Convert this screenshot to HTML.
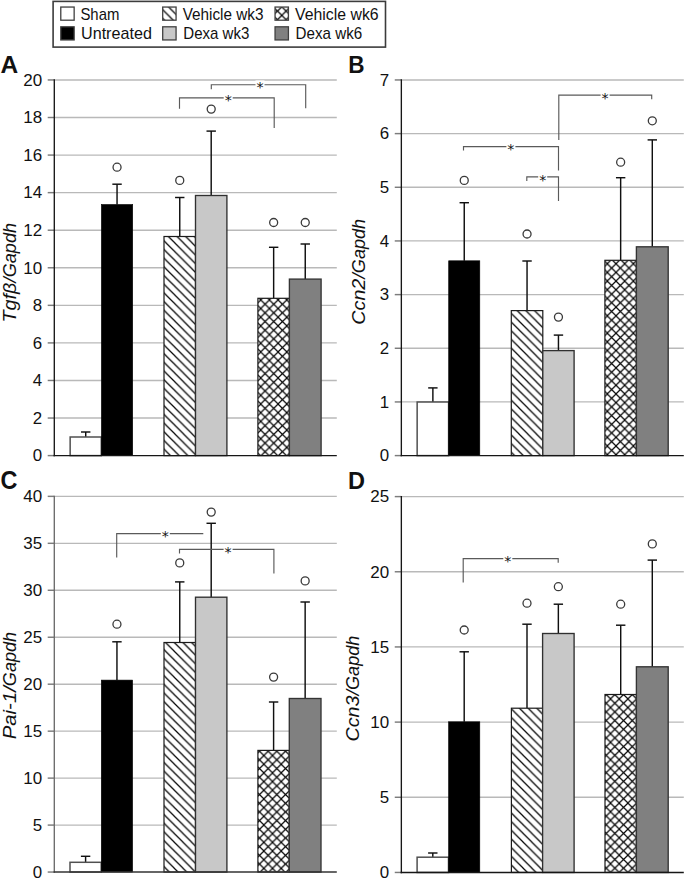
<!DOCTYPE html>
<html lang="en"><head><meta charset="utf-8"><title>Figure: gene expression bar charts</title>
<style>html,body{margin:0;padding:0;background:#fff}svg{display:block}text{font-family:"Liberation Sans", sans-serif;fill:#111}</style>
</head><body>
<svg width="685" height="879" viewBox="0 0 685 879">
<defs>
<pattern id="pAveh3" patternUnits="userSpaceOnUse" width="8.68" height="8.68" x="1.30" y="0.00"><rect width="8.68" height="8.68" fill="#fff"/><path d="M-1.00,-1.00L9.68,9.68 M7.68,-1.00L18.36,9.68 M-1.00,7.68L9.68,18.36" stroke="#050505" stroke-width="1.25"/></pattern>
<pattern id="pBveh3" patternUnits="userSpaceOnUse" width="8.68" height="8.68" x="6.95" y="0.00"><rect width="8.68" height="8.68" fill="#fff"/><path d="M-1.00,-1.00L9.68,9.68 M7.68,-1.00L18.36,9.68 M-1.00,7.68L9.68,18.36" stroke="#050505" stroke-width="1.25"/></pattern>
<pattern id="pCveh3" patternUnits="userSpaceOnUse" width="8.68" height="8.68" x="0.47" y="0.00"><rect width="8.68" height="8.68" fill="#fff"/><path d="M-1.00,-1.00L9.68,9.68 M7.68,-1.00L18.36,9.68 M-1.00,7.68L9.68,18.36" stroke="#050505" stroke-width="1.25"/></pattern>
<pattern id="pDveh3" patternUnits="userSpaceOnUse" width="8.68" height="8.68" x="2.20" y="0.00"><rect width="8.68" height="8.68" fill="#fff"/><path d="M-1.00,-1.00L9.68,9.68 M7.68,-1.00L18.36,9.68 M-1.00,7.68L9.68,18.36" stroke="#050505" stroke-width="1.25"/></pattern>
<pattern id="pAveh6" patternUnits="userSpaceOnUse" width="8.68" height="8.68" x="0.33" y="4.73"><rect width="8.68" height="8.68" fill="#fff"/><path d="M-1.00,-1.00L9.68,9.68 M-1.00,9.68L9.68,-1.00" stroke="#050505" stroke-width="1.2"/></pattern>
<pattern id="pBveh6" patternUnits="userSpaceOnUse" width="8.68" height="8.68" x="8.40" y="3.32"><rect width="8.68" height="8.68" fill="#fff"/><path d="M-1.00,-1.00L9.68,9.68 M-1.00,9.68L9.68,-1.00" stroke="#050505" stroke-width="1.2"/></pattern>
<pattern id="pCveh6" patternUnits="userSpaceOnUse" width="8.68" height="8.68" x="3.42" y="0.37"><rect width="8.68" height="8.68" fill="#fff"/><path d="M-1.00,-1.00L9.68,9.68 M-1.00,9.68L9.68,-1.00" stroke="#050505" stroke-width="1.2"/></pattern>
<pattern id="pDveh6" patternUnits="userSpaceOnUse" width="8.68" height="8.68" x="2.93" y="4.49"><rect width="8.68" height="8.68" fill="#fff"/><path d="M-1.00,-1.00L9.68,9.68 M-1.00,9.68L9.68,-1.00" stroke="#050505" stroke-width="1.2"/></pattern>
<pattern id="pLveh3" patternUnits="userSpaceOnUse" width="8.68" height="8.68" x="5.44" y="0.00"><rect width="8.68" height="8.68" fill="#fff"/><path d="M-1.00,-1.00L9.68,9.68 M7.68,-1.00L18.36,9.68 M-1.00,7.68L9.68,18.36" stroke="#050505" stroke-width="1.25"/></pattern>
<pattern id="pLveh6" patternUnits="userSpaceOnUse" width="8.68" height="8.68" x="4.04" y="6.72"><rect width="8.68" height="8.68" fill="#fff"/><path d="M-1.00,-1.00L9.68,9.68 M-1.00,9.68L9.68,-1.00" stroke="#050505" stroke-width="1.2"/></pattern>
</defs>
<rect width="685" height="879" fill="#fff"/>
<rect x="53.1" y="1.4" width="332.4" height="45.7" fill="#fff" stroke="#3c3c3c" stroke-width="1.6"/>
<rect x="60.78" y="7.05" width="13.37" height="13.15" fill="#fff" stroke="#404040" stroke-width="1.3"/>
<text x="80.4" y="19.95" font-size="16.2" textLength="39.0" lengthAdjust="spacingAndGlyphs">Sham</text>
<rect x="60.78" y="26.8" width="13.37" height="13.15" fill="#000" stroke="#404040" stroke-width="1.3"/>
<text x="81.0" y="39.4" font-size="16.2" textLength="70.9" lengthAdjust="spacingAndGlyphs">Untreated</text>
<rect x="162.7" y="7.05" width="13.37" height="13.15" fill="url(#pLveh3)" stroke="#404040" stroke-width="1.3"/>
<text x="182.7" y="19.95" font-size="16.2" textLength="80.8" lengthAdjust="spacingAndGlyphs">Vehicle wk3</text>
<rect x="162.7" y="26.8" width="13.37" height="13.15" fill="#c8c8c8" stroke="#404040" stroke-width="1.3"/>
<text x="183.3" y="39.4" font-size="16.2" textLength="66.1" lengthAdjust="spacingAndGlyphs">Dexa wk3</text>
<rect x="275.05" y="7.05" width="13.37" height="13.15" fill="url(#pLveh6)" stroke="#404040" stroke-width="1.3"/>
<text x="295.1" y="19.95" font-size="16.2" textLength="83.5" lengthAdjust="spacingAndGlyphs">Vehicle wk6</text>
<rect x="275.05" y="26.8" width="13.37" height="13.15" fill="#808080" stroke="#404040" stroke-width="1.3"/>
<text x="295.6" y="39.4" font-size="16.2" textLength="66.6" lengthAdjust="spacingAndGlyphs">Dexa wk6</text>
<line x1="47.699999999999996" y1="455.60" x2="54.3" y2="455.60" stroke="#7c7c7c" stroke-width="1.45"/>
<text x="42.099999999999994" y="461.35" font-size="16.4" text-anchor="end" textLength="9.4" lengthAdjust="spacingAndGlyphs">0</text>
<line x1="54.3" y1="418.04" x2="336.8" y2="418.04" stroke="#b9b9b9" stroke-width="1.35"/>
<line x1="47.699999999999996" y1="418.04" x2="54.3" y2="418.04" stroke="#7c7c7c" stroke-width="1.45"/>
<text x="42.099999999999994" y="423.79" font-size="16.4" text-anchor="end" textLength="9.4" lengthAdjust="spacingAndGlyphs">2</text>
<line x1="54.3" y1="380.47" x2="336.8" y2="380.47" stroke="#b9b9b9" stroke-width="1.35"/>
<line x1="47.699999999999996" y1="380.47" x2="54.3" y2="380.47" stroke="#7c7c7c" stroke-width="1.45"/>
<text x="42.099999999999994" y="386.22" font-size="16.4" text-anchor="end" textLength="9.4" lengthAdjust="spacingAndGlyphs">4</text>
<line x1="54.3" y1="342.91" x2="336.8" y2="342.91" stroke="#b9b9b9" stroke-width="1.35"/>
<line x1="47.699999999999996" y1="342.91" x2="54.3" y2="342.91" stroke="#7c7c7c" stroke-width="1.45"/>
<text x="42.099999999999994" y="348.66" font-size="16.4" text-anchor="end" textLength="9.4" lengthAdjust="spacingAndGlyphs">6</text>
<line x1="54.3" y1="305.34" x2="336.8" y2="305.34" stroke="#b9b9b9" stroke-width="1.35"/>
<line x1="47.699999999999996" y1="305.34" x2="54.3" y2="305.34" stroke="#7c7c7c" stroke-width="1.45"/>
<text x="42.099999999999994" y="311.09" font-size="16.4" text-anchor="end" textLength="9.4" lengthAdjust="spacingAndGlyphs">8</text>
<line x1="54.3" y1="267.77" x2="336.8" y2="267.77" stroke="#b9b9b9" stroke-width="1.35"/>
<line x1="47.699999999999996" y1="267.77" x2="54.3" y2="267.77" stroke="#7c7c7c" stroke-width="1.45"/>
<text x="42.099999999999994" y="273.52" font-size="16.4" text-anchor="end" textLength="18.9" lengthAdjust="spacingAndGlyphs">10</text>
<line x1="54.3" y1="230.21" x2="336.8" y2="230.21" stroke="#b9b9b9" stroke-width="1.35"/>
<line x1="47.699999999999996" y1="230.21" x2="54.3" y2="230.21" stroke="#7c7c7c" stroke-width="1.45"/>
<text x="42.099999999999994" y="235.96" font-size="16.4" text-anchor="end" textLength="18.9" lengthAdjust="spacingAndGlyphs">12</text>
<line x1="54.3" y1="192.64" x2="336.8" y2="192.64" stroke="#b9b9b9" stroke-width="1.35"/>
<line x1="47.699999999999996" y1="192.64" x2="54.3" y2="192.64" stroke="#7c7c7c" stroke-width="1.45"/>
<text x="42.099999999999994" y="198.39" font-size="16.4" text-anchor="end" textLength="18.9" lengthAdjust="spacingAndGlyphs">14</text>
<line x1="54.3" y1="155.08" x2="336.8" y2="155.08" stroke="#b9b9b9" stroke-width="1.35"/>
<line x1="47.699999999999996" y1="155.08" x2="54.3" y2="155.08" stroke="#7c7c7c" stroke-width="1.45"/>
<text x="42.099999999999994" y="160.83" font-size="16.4" text-anchor="end" textLength="18.9" lengthAdjust="spacingAndGlyphs">16</text>
<line x1="54.3" y1="117.51" x2="336.8" y2="117.51" stroke="#b9b9b9" stroke-width="1.35"/>
<line x1="47.699999999999996" y1="117.51" x2="54.3" y2="117.51" stroke="#7c7c7c" stroke-width="1.45"/>
<text x="42.099999999999994" y="123.26" font-size="16.4" text-anchor="end" textLength="18.9" lengthAdjust="spacingAndGlyphs">18</text>
<line x1="54.3" y1="79.95" x2="336.8" y2="79.95" stroke="#b9b9b9" stroke-width="1.35"/>
<line x1="47.699999999999996" y1="79.95" x2="54.3" y2="79.95" stroke="#7c7c7c" stroke-width="1.45"/>
<text x="42.099999999999994" y="85.70" font-size="16.4" text-anchor="end" textLength="18.9" lengthAdjust="spacingAndGlyphs">20</text>
<line x1="85.72" y1="432.0" x2="85.72" y2="437.0" stroke="#101010" stroke-width="1.45"/>
<line x1="81.02" y1="432.0" x2="90.42" y2="432.0" stroke="#101010" stroke-width="1.45"/>
<rect x="70.15" y="437.0" width="31.15" height="18.60" fill="#fff" stroke="#505050" stroke-width="1.5"/>
<line x1="117.05" y1="184.2" x2="117.05" y2="204.5" stroke="#101010" stroke-width="1.45"/>
<line x1="112.35" y1="184.2" x2="121.75" y2="184.2" stroke="#101010" stroke-width="1.45"/>
<rect x="101.4" y="204.5" width="31.30" height="251.10" fill="#000" stroke="#000" stroke-width="0.6"/>
<circle cx="117.05" cy="167.2" r="4.0" fill="#fff" stroke="#3a3a3a" stroke-width="1.3"/>
<line x1="179.75" y1="197.5" x2="179.75" y2="236.5" stroke="#101010" stroke-width="1.45"/>
<line x1="175.05" y1="197.5" x2="184.45" y2="197.5" stroke="#101010" stroke-width="1.45"/>
<rect x="164.0" y="236.5" width="31.50" height="219.10" fill="url(#pAveh3)" stroke="#1a1a1a" stroke-width="1.2"/>
<circle cx="179.75" cy="180.4" r="4.0" fill="#fff" stroke="#3a3a3a" stroke-width="1.3"/>
<line x1="211.20" y1="131.1" x2="211.20" y2="195.5" stroke="#101010" stroke-width="1.45"/>
<line x1="206.50" y1="131.1" x2="215.90" y2="131.1" stroke="#101010" stroke-width="1.45"/>
<rect x="195.5" y="195.5" width="31.40" height="260.10" fill="#c8c8c8" stroke="#303030" stroke-width="1.35"/>
<circle cx="211.20" cy="109.1" r="4.0" fill="#fff" stroke="#3a3a3a" stroke-width="1.3"/>
<line x1="273.65" y1="247.3" x2="273.65" y2="298.3" stroke="#101010" stroke-width="1.45"/>
<line x1="268.95" y1="247.3" x2="278.35" y2="247.3" stroke="#101010" stroke-width="1.45"/>
<rect x="257.9" y="298.3" width="31.50" height="157.30" fill="url(#pAveh6)" stroke="#1a1a1a" stroke-width="1.2"/>
<circle cx="273.65" cy="222.5" r="4.0" fill="#fff" stroke="#3a3a3a" stroke-width="1.3"/>
<line x1="305.25" y1="244.0" x2="305.25" y2="279.1" stroke="#101010" stroke-width="1.45"/>
<line x1="300.55" y1="244.0" x2="309.95" y2="244.0" stroke="#101010" stroke-width="1.45"/>
<rect x="289.4" y="279.1" width="31.70" height="176.50" fill="#808080" stroke="#343434" stroke-width="1.35"/>
<circle cx="305.25" cy="222.5" r="4.0" fill="#fff" stroke="#3a3a3a" stroke-width="1.3"/>
<line x1="54.3" y1="79.35000000000001" x2="54.3" y2="456.3" stroke="#161616" stroke-width="1.35"/>
<line x1="53.599999999999994" y1="455.6" x2="336.8" y2="455.6" stroke="#161616" stroke-width="1.35"/>
<path d="M211.3,89.3V84.7H305.7V108.3" fill="none" stroke="#5a5a5a" stroke-width="1.15"/>
<rect x="255.5" y="80.4" width="9" height="9" fill="#fff"/>
<text x="260.0" y="92.2" font-size="14.2" text-anchor="middle" style="font-family:'DejaVu Sans','Liberation Sans',sans-serif">*</text>
<path d="M179.5,108.8V97.8H274.2V128.1" fill="none" stroke="#5a5a5a" stroke-width="1.15"/>
<rect x="223.7" y="93.5" width="9" height="9" fill="#fff"/>
<text x="228.2" y="105.3" font-size="14.2" text-anchor="middle" style="font-family:'DejaVu Sans','Liberation Sans',sans-serif">*</text>
<text transform="translate(16.4,322.6) rotate(-90)" font-size="18.6" font-style="italic"><tspan textLength="45.3" lengthAdjust="spacingAndGlyphs">Tgfβ/</tspan><tspan textLength="54.4" lengthAdjust="spacingAndGlyphs">Gapdh</tspan></text>
<text x="0.5" y="73.1" font-size="24.7" font-weight="bold" fill="#000" textLength="17.7" lengthAdjust="spacingAndGlyphs">A</text>
<line x1="394.75" y1="455.60" x2="401.35" y2="455.60" stroke="#7c7c7c" stroke-width="1.45"/>
<text x="389.15000000000003" y="461.35" font-size="16.4" text-anchor="end" textLength="9.4" lengthAdjust="spacingAndGlyphs">0</text>
<line x1="401.35" y1="401.94" x2="683.8" y2="401.94" stroke="#b9b9b9" stroke-width="1.35"/>
<line x1="394.75" y1="401.94" x2="401.35" y2="401.94" stroke="#7c7c7c" stroke-width="1.45"/>
<text x="389.15000000000003" y="407.69" font-size="16.4" text-anchor="end" textLength="9.4" lengthAdjust="spacingAndGlyphs">1</text>
<line x1="401.35" y1="348.27" x2="683.8" y2="348.27" stroke="#b9b9b9" stroke-width="1.35"/>
<line x1="394.75" y1="348.27" x2="401.35" y2="348.27" stroke="#7c7c7c" stroke-width="1.45"/>
<text x="389.15000000000003" y="354.02" font-size="16.4" text-anchor="end" textLength="9.4" lengthAdjust="spacingAndGlyphs">2</text>
<line x1="401.35" y1="294.61" x2="683.8" y2="294.61" stroke="#b9b9b9" stroke-width="1.35"/>
<line x1="394.75" y1="294.61" x2="401.35" y2="294.61" stroke="#7c7c7c" stroke-width="1.45"/>
<text x="389.15000000000003" y="300.36" font-size="16.4" text-anchor="end" textLength="9.4" lengthAdjust="spacingAndGlyphs">3</text>
<line x1="401.35" y1="240.94" x2="683.8" y2="240.94" stroke="#b9b9b9" stroke-width="1.35"/>
<line x1="394.75" y1="240.94" x2="401.35" y2="240.94" stroke="#7c7c7c" stroke-width="1.45"/>
<text x="389.15000000000003" y="246.69" font-size="16.4" text-anchor="end" textLength="9.4" lengthAdjust="spacingAndGlyphs">4</text>
<line x1="401.35" y1="187.28" x2="683.8" y2="187.28" stroke="#b9b9b9" stroke-width="1.35"/>
<line x1="394.75" y1="187.28" x2="401.35" y2="187.28" stroke="#7c7c7c" stroke-width="1.45"/>
<text x="389.15000000000003" y="193.03" font-size="16.4" text-anchor="end" textLength="9.4" lengthAdjust="spacingAndGlyphs">5</text>
<line x1="401.35" y1="133.61" x2="683.8" y2="133.61" stroke="#b9b9b9" stroke-width="1.35"/>
<line x1="394.75" y1="133.61" x2="401.35" y2="133.61" stroke="#7c7c7c" stroke-width="1.45"/>
<text x="389.15000000000003" y="139.36" font-size="16.4" text-anchor="end" textLength="9.4" lengthAdjust="spacingAndGlyphs">6</text>
<line x1="401.35" y1="79.95" x2="683.8" y2="79.95" stroke="#b9b9b9" stroke-width="1.35"/>
<line x1="394.75" y1="79.95" x2="401.35" y2="79.95" stroke="#7c7c7c" stroke-width="1.45"/>
<text x="389.15000000000003" y="85.70" font-size="16.4" text-anchor="end" textLength="9.4" lengthAdjust="spacingAndGlyphs">7</text>
<line x1="432.88" y1="387.9" x2="432.88" y2="402.0" stroke="#101010" stroke-width="1.45"/>
<line x1="428.18" y1="387.9" x2="437.57" y2="387.9" stroke="#101010" stroke-width="1.45"/>
<rect x="417.15" y="402.0" width="31.45" height="53.60" fill="#fff" stroke="#505050" stroke-width="1.5"/>
<line x1="464.25" y1="202.7" x2="464.25" y2="260.8" stroke="#101010" stroke-width="1.45"/>
<line x1="459.55" y1="202.7" x2="468.95" y2="202.7" stroke="#101010" stroke-width="1.45"/>
<rect x="448.7" y="260.8" width="31.10" height="194.80" fill="#000" stroke="#000" stroke-width="0.6"/>
<circle cx="464.25" cy="180.4" r="4.0" fill="#fff" stroke="#3a3a3a" stroke-width="1.3"/>
<line x1="527.05" y1="261.0" x2="527.05" y2="310.6" stroke="#101010" stroke-width="1.45"/>
<line x1="522.35" y1="261.0" x2="531.75" y2="261.0" stroke="#101010" stroke-width="1.45"/>
<rect x="511.3" y="310.6" width="31.50" height="145.00" fill="url(#pBveh3)" stroke="#1a1a1a" stroke-width="1.2"/>
<circle cx="527.05" cy="234.0" r="4.0" fill="#fff" stroke="#3a3a3a" stroke-width="1.3"/>
<line x1="558.45" y1="335.1" x2="558.45" y2="350.6" stroke="#101010" stroke-width="1.45"/>
<line x1="553.75" y1="335.1" x2="563.15" y2="335.1" stroke="#101010" stroke-width="1.45"/>
<rect x="542.8" y="350.6" width="31.30" height="105.00" fill="#c8c8c8" stroke="#303030" stroke-width="1.35"/>
<circle cx="558.45" cy="317.1" r="4.0" fill="#fff" stroke="#3a3a3a" stroke-width="1.3"/>
<line x1="620.65" y1="177.7" x2="620.65" y2="260.3" stroke="#101010" stroke-width="1.45"/>
<line x1="615.95" y1="177.7" x2="625.35" y2="177.7" stroke="#101010" stroke-width="1.45"/>
<rect x="604.9" y="260.3" width="31.50" height="195.30" fill="url(#pBveh6)" stroke="#1a1a1a" stroke-width="1.2"/>
<circle cx="620.65" cy="162.2" r="4.0" fill="#fff" stroke="#3a3a3a" stroke-width="1.3"/>
<line x1="652.30" y1="139.9" x2="652.30" y2="246.8" stroke="#101010" stroke-width="1.45"/>
<line x1="647.60" y1="139.9" x2="657.00" y2="139.9" stroke="#101010" stroke-width="1.45"/>
<rect x="636.4" y="246.8" width="31.80" height="208.80" fill="#808080" stroke="#343434" stroke-width="1.35"/>
<circle cx="652.30" cy="120.8" r="4.0" fill="#fff" stroke="#3a3a3a" stroke-width="1.3"/>
<line x1="401.35" y1="79.35000000000001" x2="401.35" y2="456.3" stroke="#161616" stroke-width="1.35"/>
<line x1="400.65000000000003" y1="455.6" x2="683.8" y2="455.6" stroke="#161616" stroke-width="1.35"/>
<path d="M558.8,140.1V95.1H651.7V99.3" fill="none" stroke="#5a5a5a" stroke-width="1.15"/>
<rect x="600.6" y="90.8" width="9" height="9" fill="#fff"/>
<text x="605.1" y="102.6" font-size="14.2" text-anchor="middle" style="font-family:'DejaVu Sans','Liberation Sans',sans-serif">*</text>
<path d="M463.5,150.5V146.6H558.5V170.6" fill="none" stroke="#5a5a5a" stroke-width="1.15"/>
<rect x="506.4" y="142.3" width="9" height="9" fill="#fff"/>
<text x="510.9" y="154.1" font-size="14.2" text-anchor="middle" style="font-family:'DejaVu Sans','Liberation Sans',sans-serif">*</text>
<path d="M526.8,181.0V176.9H558.5V200.9" fill="none" stroke="#5a5a5a" stroke-width="1.15"/>
<rect x="538.2" y="172.7" width="9" height="9" fill="#fff"/>
<text x="542.7" y="184.5" font-size="14.2" text-anchor="middle" style="font-family:'DejaVu Sans','Liberation Sans',sans-serif">*</text>
<text transform="translate(364.5,324.7) rotate(-90)" font-size="18.6" font-style="italic"><tspan textLength="51.5" lengthAdjust="spacingAndGlyphs">Ccn2/</tspan><tspan textLength="54.4" lengthAdjust="spacingAndGlyphs">Gapdh</tspan></text>
<text x="348.3" y="73.1" font-size="24.7" font-weight="bold" fill="#000" textLength="16.3" lengthAdjust="spacingAndGlyphs">B</text>
<line x1="47.699999999999996" y1="872.05" x2="54.3" y2="872.05" stroke="#7c7c7c" stroke-width="1.45"/>
<text x="42.099999999999994" y="877.80" font-size="16.4" text-anchor="end" textLength="9.4" lengthAdjust="spacingAndGlyphs">0</text>
<line x1="54.3" y1="825.09" x2="336.8" y2="825.09" stroke="#b9b9b9" stroke-width="1.35"/>
<line x1="47.699999999999996" y1="825.09" x2="54.3" y2="825.09" stroke="#7c7c7c" stroke-width="1.45"/>
<text x="42.099999999999994" y="830.84" font-size="16.4" text-anchor="end" textLength="9.4" lengthAdjust="spacingAndGlyphs">5</text>
<line x1="54.3" y1="778.12" x2="336.8" y2="778.12" stroke="#b9b9b9" stroke-width="1.35"/>
<line x1="47.699999999999996" y1="778.12" x2="54.3" y2="778.12" stroke="#7c7c7c" stroke-width="1.45"/>
<text x="42.099999999999994" y="783.88" font-size="16.4" text-anchor="end" textLength="18.9" lengthAdjust="spacingAndGlyphs">10</text>
<line x1="54.3" y1="731.16" x2="336.8" y2="731.16" stroke="#b9b9b9" stroke-width="1.35"/>
<line x1="47.699999999999996" y1="731.16" x2="54.3" y2="731.16" stroke="#7c7c7c" stroke-width="1.45"/>
<text x="42.099999999999994" y="736.91" font-size="16.4" text-anchor="end" textLength="18.9" lengthAdjust="spacingAndGlyphs">15</text>
<line x1="54.3" y1="684.20" x2="336.8" y2="684.20" stroke="#b9b9b9" stroke-width="1.35"/>
<line x1="47.699999999999996" y1="684.20" x2="54.3" y2="684.20" stroke="#7c7c7c" stroke-width="1.45"/>
<text x="42.099999999999994" y="689.95" font-size="16.4" text-anchor="end" textLength="18.9" lengthAdjust="spacingAndGlyphs">20</text>
<line x1="54.3" y1="637.24" x2="336.8" y2="637.24" stroke="#b9b9b9" stroke-width="1.35"/>
<line x1="47.699999999999996" y1="637.24" x2="54.3" y2="637.24" stroke="#7c7c7c" stroke-width="1.45"/>
<text x="42.099999999999994" y="642.99" font-size="16.4" text-anchor="end" textLength="18.9" lengthAdjust="spacingAndGlyphs">25</text>
<line x1="54.3" y1="590.27" x2="336.8" y2="590.27" stroke="#b9b9b9" stroke-width="1.35"/>
<line x1="47.699999999999996" y1="590.27" x2="54.3" y2="590.27" stroke="#7c7c7c" stroke-width="1.45"/>
<text x="42.099999999999994" y="596.02" font-size="16.4" text-anchor="end" textLength="18.9" lengthAdjust="spacingAndGlyphs">30</text>
<line x1="54.3" y1="543.31" x2="336.8" y2="543.31" stroke="#b9b9b9" stroke-width="1.35"/>
<line x1="47.699999999999996" y1="543.31" x2="54.3" y2="543.31" stroke="#7c7c7c" stroke-width="1.45"/>
<text x="42.099999999999994" y="549.06" font-size="16.4" text-anchor="end" textLength="18.9" lengthAdjust="spacingAndGlyphs">35</text>
<line x1="54.3" y1="496.35" x2="336.8" y2="496.35" stroke="#b9b9b9" stroke-width="1.35"/>
<line x1="47.699999999999996" y1="496.35" x2="54.3" y2="496.35" stroke="#7c7c7c" stroke-width="1.45"/>
<text x="42.099999999999994" y="502.10" font-size="16.4" text-anchor="end" textLength="18.9" lengthAdjust="spacingAndGlyphs">40</text>
<line x1="85.60" y1="856.3" x2="85.60" y2="862.3" stroke="#101010" stroke-width="1.45"/>
<line x1="80.90" y1="856.3" x2="90.30" y2="856.3" stroke="#101010" stroke-width="1.45"/>
<rect x="70.0" y="862.3" width="31.20" height="9.75" fill="#fff" stroke="#505050" stroke-width="1.5"/>
<line x1="116.95" y1="641.8" x2="116.95" y2="680.1" stroke="#101010" stroke-width="1.45"/>
<line x1="112.25" y1="641.8" x2="121.65" y2="641.8" stroke="#101010" stroke-width="1.45"/>
<rect x="101.3" y="680.1" width="31.30" height="191.95" fill="#000" stroke="#000" stroke-width="0.6"/>
<circle cx="116.95" cy="624.2" r="4.0" fill="#fff" stroke="#3a3a3a" stroke-width="1.3"/>
<line x1="179.75" y1="581.9" x2="179.75" y2="642.5" stroke="#101010" stroke-width="1.45"/>
<line x1="175.05" y1="581.9" x2="184.45" y2="581.9" stroke="#101010" stroke-width="1.45"/>
<rect x="164.0" y="642.5" width="31.50" height="229.55" fill="url(#pCveh3)" stroke="#1a1a1a" stroke-width="1.2"/>
<circle cx="179.75" cy="562.9" r="4.0" fill="#fff" stroke="#3a3a3a" stroke-width="1.3"/>
<line x1="211.20" y1="523.3" x2="211.20" y2="597.2" stroke="#101010" stroke-width="1.45"/>
<line x1="206.50" y1="523.3" x2="215.90" y2="523.3" stroke="#101010" stroke-width="1.45"/>
<rect x="195.5" y="597.2" width="31.40" height="274.85" fill="#c8c8c8" stroke="#303030" stroke-width="1.35"/>
<circle cx="211.20" cy="512.1" r="4.0" fill="#fff" stroke="#3a3a3a" stroke-width="1.3"/>
<line x1="273.60" y1="702.0" x2="273.60" y2="750.4" stroke="#101010" stroke-width="1.45"/>
<line x1="268.90" y1="702.0" x2="278.30" y2="702.0" stroke="#101010" stroke-width="1.45"/>
<rect x="257.9" y="750.4" width="31.40" height="121.65" fill="url(#pCveh6)" stroke="#1a1a1a" stroke-width="1.2"/>
<circle cx="273.60" cy="677.1" r="4.0" fill="#fff" stroke="#3a3a3a" stroke-width="1.3"/>
<line x1="305.15" y1="602.0" x2="305.15" y2="698.5" stroke="#101010" stroke-width="1.45"/>
<line x1="300.45" y1="602.0" x2="309.85" y2="602.0" stroke="#101010" stroke-width="1.45"/>
<rect x="289.3" y="698.5" width="31.70" height="173.55" fill="#808080" stroke="#343434" stroke-width="1.35"/>
<circle cx="305.15" cy="580.9" r="4.0" fill="#fff" stroke="#3a3a3a" stroke-width="1.3"/>
<line x1="54.3" y1="495.75" x2="54.3" y2="872.75" stroke="#6a6a6a" stroke-width="1.35"/>
<line x1="53.599999999999994" y1="872.05" x2="336.8" y2="872.05" stroke="#333" stroke-width="1.6"/>
<path d="M116.7,557.6V533.6H203.3" fill="none" stroke="#5a5a5a" stroke-width="1.15"/>
<rect x="160.8" y="529.3" width="9" height="9" fill="#fff"/>
<text x="165.3" y="541.1" font-size="14.2" text-anchor="middle" style="font-family:'DejaVu Sans','Liberation Sans',sans-serif">*</text>
<path d="M179.5,553.4V549.4H273.9V573.4" fill="none" stroke="#5a5a5a" stroke-width="1.15"/>
<rect x="223.6" y="545.1" width="9" height="9" fill="#fff"/>
<text x="228.1" y="556.9" font-size="14.2" text-anchor="middle" style="font-family:'DejaVu Sans','Liberation Sans',sans-serif">*</text>
<text transform="translate(16.4,739.2) rotate(-90)" font-size="18.6" font-style="italic"><tspan textLength="53.0" lengthAdjust="spacingAndGlyphs">Pai-1/</tspan><tspan textLength="54.4" lengthAdjust="spacingAndGlyphs">Gapdh</tspan></text>
<text x="0.5" y="488.9" font-size="25.7" font-weight="bold" fill="#000" textLength="16.9" lengthAdjust="spacingAndGlyphs">C</text>
<line x1="394.75" y1="872.45" x2="401.35" y2="872.45" stroke="#7c7c7c" stroke-width="1.45"/>
<text x="389.15000000000003" y="878.20" font-size="16.4" text-anchor="end" textLength="9.4" lengthAdjust="spacingAndGlyphs">0</text>
<line x1="401.35" y1="797.28" x2="683.8" y2="797.28" stroke="#b9b9b9" stroke-width="1.35"/>
<line x1="394.75" y1="797.28" x2="401.35" y2="797.28" stroke="#7c7c7c" stroke-width="1.45"/>
<text x="389.15000000000003" y="803.03" font-size="16.4" text-anchor="end" textLength="9.4" lengthAdjust="spacingAndGlyphs">5</text>
<line x1="401.35" y1="722.11" x2="683.8" y2="722.11" stroke="#b9b9b9" stroke-width="1.35"/>
<line x1="394.75" y1="722.11" x2="401.35" y2="722.11" stroke="#7c7c7c" stroke-width="1.45"/>
<text x="389.15000000000003" y="727.86" font-size="16.4" text-anchor="end" textLength="18.9" lengthAdjust="spacingAndGlyphs">10</text>
<line x1="401.35" y1="646.94" x2="683.8" y2="646.94" stroke="#b9b9b9" stroke-width="1.35"/>
<line x1="394.75" y1="646.94" x2="401.35" y2="646.94" stroke="#7c7c7c" stroke-width="1.45"/>
<text x="389.15000000000003" y="652.69" font-size="16.4" text-anchor="end" textLength="18.9" lengthAdjust="spacingAndGlyphs">15</text>
<line x1="401.35" y1="571.77" x2="683.8" y2="571.77" stroke="#b9b9b9" stroke-width="1.35"/>
<line x1="394.75" y1="571.77" x2="401.35" y2="571.77" stroke="#7c7c7c" stroke-width="1.45"/>
<text x="389.15000000000003" y="577.52" font-size="16.4" text-anchor="end" textLength="18.9" lengthAdjust="spacingAndGlyphs">20</text>
<line x1="401.35" y1="496.60" x2="683.8" y2="496.60" stroke="#b9b9b9" stroke-width="1.35"/>
<line x1="394.75" y1="496.60" x2="401.35" y2="496.60" stroke="#7c7c7c" stroke-width="1.45"/>
<text x="389.15000000000003" y="502.35" font-size="16.4" text-anchor="end" textLength="18.9" lengthAdjust="spacingAndGlyphs">25</text>
<line x1="432.80" y1="853.0" x2="432.80" y2="857.2" stroke="#101010" stroke-width="1.45"/>
<line x1="428.10" y1="853.0" x2="437.50" y2="853.0" stroke="#101010" stroke-width="1.45"/>
<rect x="417.1" y="857.2" width="31.40" height="15.25" fill="#fff" stroke="#505050" stroke-width="1.5"/>
<line x1="464.20" y1="651.8" x2="464.20" y2="721.8" stroke="#101010" stroke-width="1.45"/>
<line x1="459.50" y1="651.8" x2="468.90" y2="651.8" stroke="#101010" stroke-width="1.45"/>
<rect x="448.6" y="721.8" width="31.20" height="150.65" fill="#000" stroke="#000" stroke-width="0.6"/>
<circle cx="464.20" cy="630.0" r="4.0" fill="#fff" stroke="#3a3a3a" stroke-width="1.3"/>
<line x1="527.00" y1="624.2" x2="527.00" y2="708.2" stroke="#101010" stroke-width="1.45"/>
<line x1="522.30" y1="624.2" x2="531.70" y2="624.2" stroke="#101010" stroke-width="1.45"/>
<rect x="511.4" y="708.2" width="31.20" height="164.25" fill="url(#pDveh3)" stroke="#1a1a1a" stroke-width="1.2"/>
<circle cx="527.00" cy="603.2" r="4.0" fill="#fff" stroke="#3a3a3a" stroke-width="1.3"/>
<line x1="558.35" y1="604.2" x2="558.35" y2="633.5" stroke="#101010" stroke-width="1.45"/>
<line x1="553.65" y1="604.2" x2="563.05" y2="604.2" stroke="#101010" stroke-width="1.45"/>
<rect x="542.6" y="633.5" width="31.50" height="238.95" fill="#c8c8c8" stroke="#303030" stroke-width="1.35"/>
<circle cx="558.35" cy="586.7" r="4.0" fill="#fff" stroke="#3a3a3a" stroke-width="1.3"/>
<line x1="620.70" y1="625.2" x2="620.70" y2="694.5" stroke="#101010" stroke-width="1.45"/>
<line x1="616.00" y1="625.2" x2="625.40" y2="625.2" stroke="#101010" stroke-width="1.45"/>
<rect x="605.0" y="694.5" width="31.40" height="177.95" fill="url(#pDveh6)" stroke="#1a1a1a" stroke-width="1.2"/>
<circle cx="620.70" cy="604.2" r="4.0" fill="#fff" stroke="#3a3a3a" stroke-width="1.3"/>
<line x1="652.30" y1="560.1" x2="652.30" y2="666.8" stroke="#101010" stroke-width="1.45"/>
<line x1="647.60" y1="560.1" x2="657.00" y2="560.1" stroke="#101010" stroke-width="1.45"/>
<rect x="636.4" y="666.8" width="31.80" height="205.65" fill="#808080" stroke="#343434" stroke-width="1.35"/>
<circle cx="652.30" cy="543.9" r="4.0" fill="#fff" stroke="#3a3a3a" stroke-width="1.3"/>
<line x1="401.35" y1="496.0" x2="401.35" y2="873.1500000000001" stroke="#161616" stroke-width="1.35"/>
<line x1="400.65000000000003" y1="872.45" x2="683.8" y2="872.45" stroke="#161616" stroke-width="1.35"/>
<path d="M463.2,582.6V558.6H558.2V562.8" fill="none" stroke="#5a5a5a" stroke-width="1.15"/>
<rect x="503.3" y="554.5" width="9" height="9" fill="#fff"/>
<text x="507.8" y="566.3" font-size="14.2" text-anchor="middle" style="font-family:'DejaVu Sans','Liberation Sans',sans-serif">*</text>
<text transform="translate(359.4,741.5) rotate(-90)" font-size="18.6" font-style="italic"><tspan textLength="51.5" lengthAdjust="spacingAndGlyphs">Ccn3/</tspan><tspan textLength="54.4" lengthAdjust="spacingAndGlyphs">Gapdh</tspan></text>
<text x="347.9" y="489.3" font-size="24.7" font-weight="bold" fill="#000" textLength="17.0" lengthAdjust="spacingAndGlyphs">D</text>
</svg>
</body></html>
